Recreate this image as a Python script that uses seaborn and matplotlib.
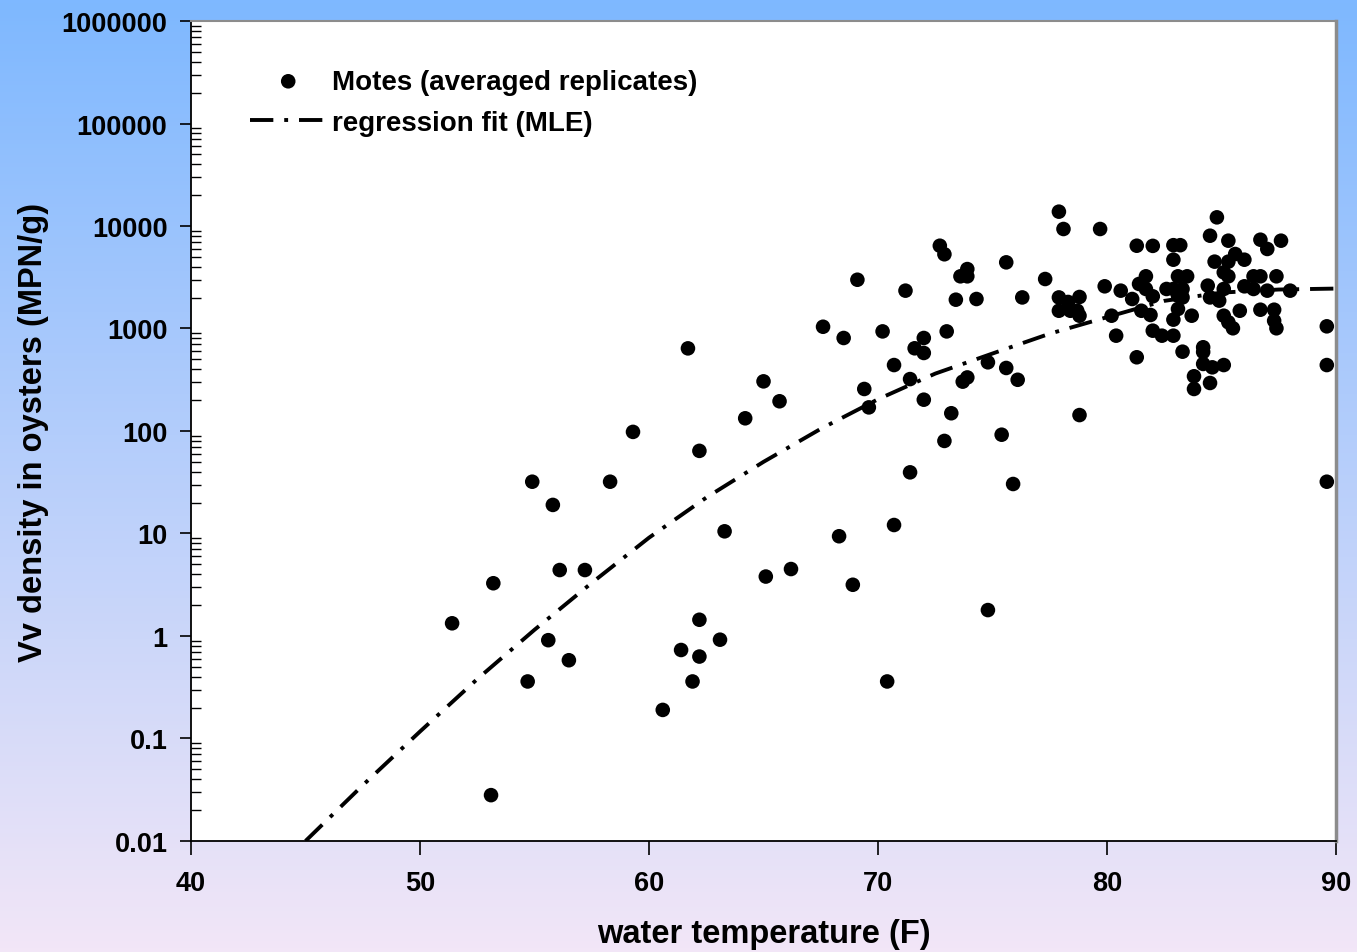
import numpy as np
import pandas as pd
import matplotlib
matplotlib.use("Agg")
import matplotlib.pyplot as plt
from matplotlib.ticker import FixedLocator, FixedFormatter, LogLocator, NullFormatter
import seaborn as sns

temps = [51.4, 53.2, 53.1, 54.9, 54.7, 55.6, 55.8, 56.1, 56.5, 57.2,
         58.3, 59.3, 60.6, 61.4, 61.7, 61.9, 62.2, 62.2, 62.2, 63.1,
         63.3, 64.2, 65.0, 65.1, 65.7, 66.2, 67.6, 68.3, 68.5, 68.9,
         69.1, 69.4, 69.6, 70.2, 70.4, 70.7, 70.7, 71.2, 71.4, 71.4,
         71.6, 72.0, 72.0, 72.0, 72.7, 72.9, 72.9, 73.0, 73.2, 73.4,
         73.6, 73.7, 73.9, 73.9, 73.9, 74.3, 74.8, 74.8, 75.4, 75.6,
         75.6, 75.9, 76.1, 76.3, 77.3, 77.9, 78.1, 77.9, 78.3, 78.8,
         77.9, 78.4, 78.7, 78.8, 78.8, 79.7, 79.9, 80.6, 80.2, 80.4,
         81.3, 82.0, 82.9, 83.2, 82.9, 81.7, 81.4, 81.7, 82.0, 81.1,
         81.5, 81.9, 82.0, 82.4, 82.9, 81.3, 82.6, 82.9, 83.3, 83.1,
         83.5, 83.1, 83.3, 83.1, 82.9, 83.7, 83.3, 84.2, 84.2, 84.2,
         84.6, 85.1, 83.8, 83.8, 84.5, 84.8, 84.5, 85.3, 85.6, 86.0,
         84.7, 85.3, 85.1, 85.3, 84.4, 85.1, 84.5, 84.9, 85.1, 85.3,
         85.5, 85.8, 86.0, 86.4, 86.7, 86.4, 87.0, 86.7, 87.0, 87.6,
         87.4, 88.0, 86.7, 87.3, 87.3, 87.4, 89.6, 89.6, 89.6]
density = [1.33, 3.27, 0.028, 32, 0.36, 0.91, 19, 4.4, 0.58, 4.4,
           32, 98, 0.19, 0.73, 640, 0.36, 64, 1.44, 0.63, 0.92,
           10.5, 133, 305, 3.8, 195, 4.5, 1040, 9.4, 808, 3.16,
           2990, 257, 170, 937, 0.36, 12.1, 440, 2340, 39.5, 321,
           641, 202, 808, 577, 6420, 5300, 80, 937, 149, 1910,
           3230, 303, 3230, 3800, 333, 1940, 1.79, 468, 92, 4420,
           412, 30.4, 316, 2010, 3040, 13800, 9350, 2010, 1815, 2030,
           1490, 1490, 1490, 1333, 143, 9350, 2580, 2340, 1333, 851,
           6420, 6400, 6500, 6500, 4690, 3230, 2720, 2430, 2060, 1940,
           1490, 1355, 952, 851, 851, 524, 2430, 2430, 2430, 3230,
           3230, 2090, 2010, 1550, 1220, 1333, 594, 656, 590, 451,
           418, 440, 342, 257, 294, 12150, 8040, 7190, 5330, 4690,
           4490, 4490, 3530, 3230, 2620, 2430, 2010, 1870, 1333, 1150,
           1005, 1490, 2580, 3230, 3230, 2430, 2340, 7350, 5970, 7190,
           3230, 2340, 1525, 1525, 1190, 1005, 1050, 440, 32]

# regression curve (MLE)
fit_temp = [45.0, 47.5, 50.0, 52.5, 55.0, 57.5, 60.0, 62.5, 65.0, 67.5,
            70.0, 72.5, 75.0, 77.5, 80.0, 82.5, 85.0, 87.5, 89.9]
fit_density = [0.010, 0.035, 0.117, 0.38, 1.15, 3.3, 9.1, 22.4, 50, 105,
               204, 363, 570, 890, 1290, 1860, 2240, 2400, 2450]

ytick_vals = [0.01, 0.1, 1, 10, 100, 1000, 10000, 100000, 1000000]
ytick_labels = ["0.01", "0.1", "1", "10", "100", "1000", "10000", "100000", "1000000"]
xtick_vals = [40, 50, 60, 70, 80, 90]

sns.set_style("ticks")
plt.rcParams["font.family"] = ["Liberation Sans", "DejaVu Sans"]
plt.rcParams["font.weight"] = "bold"
plt.rcParams["text.color"] = "black"
plt.rcParams["axes.labelcolor"] = "black"
plt.rcParams["xtick.color"] = "black"
plt.rcParams["ytick.color"] = "black"

fig = plt.figure(figsize=(13.57, 9.53), dpi=100)

# gradient background
bg = fig.add_axes([0, 0, 1, 1], zorder=-10)
top = np.array([126, 184, 255]) / 255
bottom = np.array([242, 230, 247]) / 255
t = np.linspace(0, 1, 256)[:, None]
grad = (top[None, :] * (1 - t) + bottom[None, :] * t)[:, None, :]
bg.imshow(grad, aspect="auto", extent=[0, 1, 0, 1])
bg.axis("off")

ax = fig.add_axes([0.1408, 0.1165, 0.8437, 0.8604])
ax.set_facecolor("white")

df = pd.DataFrame({"temp": temps, "density": density})
fit_df = pd.DataFrame({"temp": fit_temp, "density": fit_density})

sns.scatterplot(data=df, x="temp", y="density", ax=ax, color="black", s=110,
                edgecolor="none", label="Motes (averaged replicates)", zorder=3)
sns.lineplot(data=fit_df, x="temp", y="density", ax=ax, color="black", lw=2.8,
             linestyle=(0, (6, 2.8, 1.0, 2.8)), estimator=None,
             label="regression fit (MLE)", zorder=2)

ax.set_yscale("log")
ax.set_xlim(40, 90)
ax.set_ylim(0.01, 1000000)

ax.yaxis.set_major_locator(FixedLocator(ytick_vals))
ax.yaxis.set_major_formatter(FixedFormatter(ytick_labels))
ax.yaxis.set_minor_locator(LogLocator(base=10, subs=np.arange(2, 10)))
ax.yaxis.set_minor_formatter(NullFormatter())
ax.set_xticks(xtick_vals)
ax.set_xticklabels([str(v) for v in xtick_vals])

ax.tick_params(axis="y", which="major", direction="out", length=8, width=1.2,
               labelsize=19.5, pad=9, color="black")
ax.tick_params(axis="y", which="minor", direction="in", length=7, width=1.0, color="black")
ax.tick_params(axis="x", which="major", direction="out", length=10, width=1.2,
               labelsize=19.5, pad=11, color="black")
for lab in ax.get_xticklabels() + ax.get_yticklabels():
    lab.set_fontweight("bold")

for side in ["left", "bottom"]:
    ax.spines[side].set_color("black")
    ax.spines[side].set_linewidth(1.3)
ax.spines["top"].set_color("#8c8c8c")
ax.spines["top"].set_linewidth(1.5)
ax.spines["right"].set_color("#8c8c8c")
ax.spines["right"].set_linewidth(2.5)

ax.set_xlabel("water temperature (F)", fontsize=23.5, fontweight="bold", labelpad=16)
ax.set_ylabel("Vv density in oysters (MPN/g)", fontsize=23.5, fontweight="bold", labelpad=9)

ax.legend(loc="upper left", bbox_to_anchor=(0.0515, 0.942), frameon=False,
          handlelength=2.75, handletextpad=0.2, borderpad=0,
          borderaxespad=0, labelspacing=0.56, prop={"weight": "bold", "size": 20})

fig.savefig("out.png", dpi=100)
